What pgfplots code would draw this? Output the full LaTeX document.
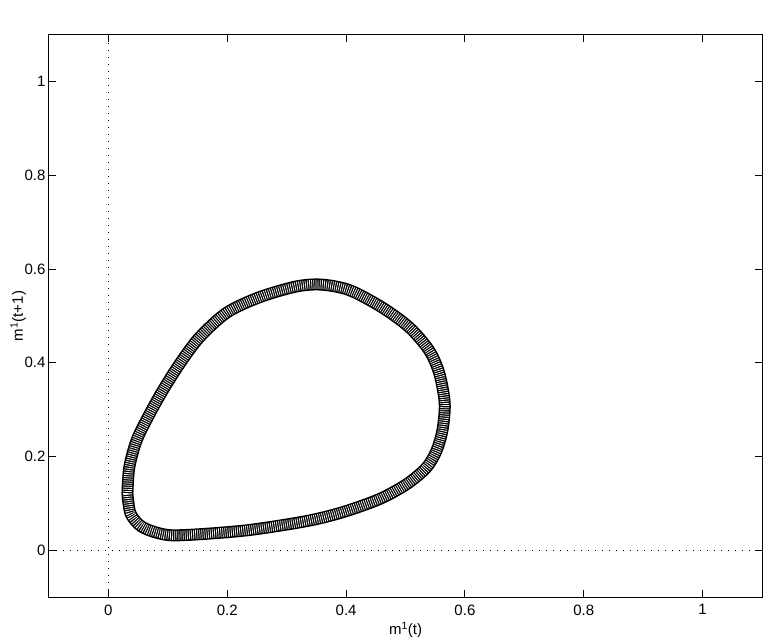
\documentclass[border=0pt]{standalone}
\usepackage{fontspec}
\setmainfont{Liberation Sans}
\usepackage{pgfplots}
\usepackage{pgfplotstable}
\pgfplotsset{compat=1.18}

\begin{document}
\begin{tikzpicture}
\begin{axis}[
    width=713pt, height=562pt,
    scale only axis,
    xmin=-0.1, xmax=1.1,
    ymin=-0.1, ymax=1.1,
    xtick={0,0.2,0.4,0.6,0.8,1},
    ytick={0,0.2,0.4,0.6,0.8,1},
    tick align=inside,
    major tick length=7pt,
    axis line style={line width=1pt},
    every tick/.style={black, line width=1pt},
    /pgf/number format/assume math mode=true,
    ticklabel style={font=\fontsize{15}{18}\selectfont},
    xticklabel style={yshift=-4pt},
    label style={font=\fontsize{15}{18}\selectfont},
    xlabel={m\textsuperscript{1}(t)},
    ylabel={m\textsuperscript{1}(t+1)},
    xlabel style={at={(axis description cs:0.5,-0.0676)}, anchor=base},
    ylabel style={at={(axis description cs:-0.0365,0.5)}, rotate=0, anchor=base},
]
% dotted zero lines
\addplot[black, line width=1pt, dash pattern=on 1.2pt off 5.8pt] coordinates {(0,-0.1) (0,1.1)};
\addplot[black, line width=1pt, dash pattern=on 1.2pt off 5.8pt] coordinates {(-0.1,0) (1.1,0)};

% the orbit band
\pgfplotstableread{
x y
0.032 0.120
0.037 0.079
0.052 0.054
0.072 0.041
0.103 0.032
0.153 0.034
0.237 0.043
0.333 0.062
0.394 0.081
0.456 0.109
0.502 0.141
0.535 0.176
0.552 0.212
0.562 0.255
0.566 0.313
0.557 0.377
0.540 0.426
0.507 0.475
0.461 0.518
0.406 0.555
0.359 0.567
0.316 0.563
0.254 0.540
0.199 0.507
0.153 0.454
0.120 0.398
0.091 0.340
0.066 0.283
0.047 0.233
0.035 0.176
0.032 0.120
}\orbit
\addplot[black, line width=12pt, smooth, line join=round, line cap=round] table {\orbit};
\addplot[white, line width=9pt, smooth, dash pattern=on 0.7pt off 1.4pt] table {\orbit};
\end{axis}
\pgfresetboundingbox
\path (current axis.south west) ++(-49pt,-43pt) rectangle ++(770pt,640pt);
\end{tikzpicture}
\end{document}
